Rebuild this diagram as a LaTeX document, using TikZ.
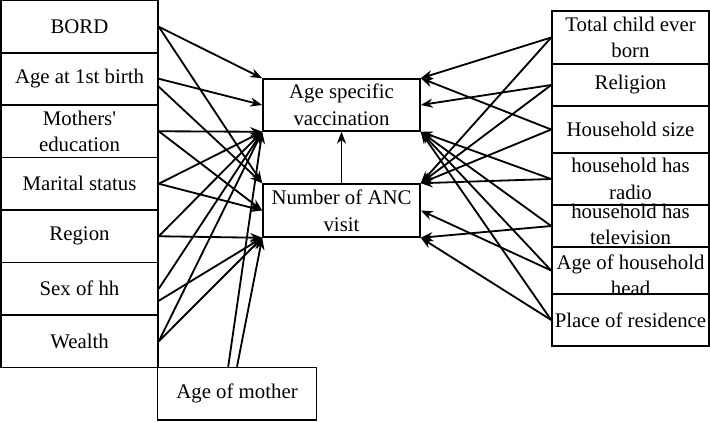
\documentclass[tikz,border=0pt]{standalone}
\usepackage{fontspec}
\setmainfont{Liberation Serif}
\usetikzlibrary{arrows.meta, positioning}

\begin{document}
\begin{tikzpicture}[
    x=0.025cm, y=-0.025cm,
    boxtext/.style={inner sep=0pt, align=center, font=\fontsize{14.8}{19}\selectfont},
    box/.style={boxtext, draw, line width=1.1pt, minimum width=3.925cm},
    lbox/.style={box, minimum height=1.3125cm},
    arrow/.style={-{Stealth[length=8.5pt, width=6.5pt]}, line width=1.3pt},
]
  \useasboundingbox (0,0) rectangle (710,421);

  \node[lbox] (bord)  at (79.5,26.75)  {BORD};
  \node[lbox] (afb)   at (79.5,78.75)  {Age at 1st birth};
  \node[lbox] (medu)  at (79.5,131.25) {Mothers{\textquotesingle}\\education};
  \node[lbox] (mars)  at (79.5,183.75) {Marital status};
  \node[lbox] (regn)  at (79.5,236.25) {Region};
  \node[lbox] (sexhh) at (79.5,288.75) {Sex of hh};
  \node[lbox] (wlth)  at (79.5,341.25) {Wealth};
  \node[lbox, minimum width=3.975cm] (agem) at (237,393.75) {Age of mother};

  \node[box, minimum height=1.3cm]   (asv) at (341.5,105)   {Age specific\\vaccination};
  \node[box, minimum height=1.325cm] (anc) at (341.5,210.5) {Number of ANC\\visit};

  \node[box, minimum height=1.325cm] (tceb)  at (630.5,37.5)  {Total child ever\\born};
  \node[box, minimum height=1.05cm]  (relg)  at (630.5,85)    {Religion};
  \node[box, minimum height=1.175cm] (hhs)   at (630.5,129.5) {Household size};
  \node[box, minimum height=1.3cm]   (radio) at (630.5,179)   {household has\\radio};
  \node[box, minimum height=1.05cm,
        label={[boxtext, yshift=0.04cm]center:household has\\television}] (tv) at (630.5,226) {};
  \node[box, minimum height=1.175cm,
        label={[boxtext, yshift=-0.12cm]center:Age of household\\head}] (ahh) at (630.5,270.5) {};
  \node[box, minimum height=1.3cm]   (plres) at (630.5,320)   {Place of residence};

  \draw[arrow] (bord.east) -- (asv.north west);
  \draw[arrow] (bord.east) -- (anc.north west);
  \draw[arrow] (afb.east) -- (asv.west);
  \draw[arrow] ([yshift=-0.2cm]afb.east) -- (anc.north west);
  \draw[arrow] (medu.east) -- (asv.south west);
  \draw[arrow] (medu.east) -- (anc.west);
  \draw[arrow] (mars.east) -- (asv.south west);
  \draw[arrow] (mars.east) -- (anc.west);
  \draw[arrow] (regn.east) -- (asv.south west);
  \draw[arrow] (regn.east) -- (anc.south west);
  \draw[arrow] (sexhh.east) -- (asv.south west);
  \draw[arrow] ([yshift=-0.3cm]sexhh.east) -- (anc.south west);
  \draw[arrow] (wlth.east) -- (asv.south west);
  \draw[arrow] (wlth.east) -- (anc.south west);
  \draw[arrow] ([xshift=-0.22cm]agem.north) -- (asv.south west);
  \draw[arrow] (agem.north) -- (anc.south west);

  \draw[arrow] (tceb.west) -- (asv.north east);
  \draw[arrow] (tceb.west) -- (anc.north east);
  \draw[arrow] (relg.west) -- (asv.east);
  \draw[arrow] (relg.west) -- (anc.north east);
  \draw[arrow] (hhs.west) -- (asv.north east);
  \draw[arrow] (hhs.west) -- (anc.north east);
  \draw[arrow] (radio.west) -- (asv.south east);
  \draw[arrow] (radio.west) -- (anc.north east);
  \draw[arrow] (tv.west) -- (asv.south east);
  \draw[arrow] (tv.west) -- (anc.south east);
  \draw[arrow] (ahh.west) -- (asv.south east);
  \draw[arrow] (ahh.west) -- (anc.east);
  \draw[arrow] (plres.west) -- (asv.south east);
  \draw[arrow] (plres.west) -- (anc.south east);

  \draw[arrow] (anc.north) -- (asv.south);
\end{tikzpicture}
\end{document}
